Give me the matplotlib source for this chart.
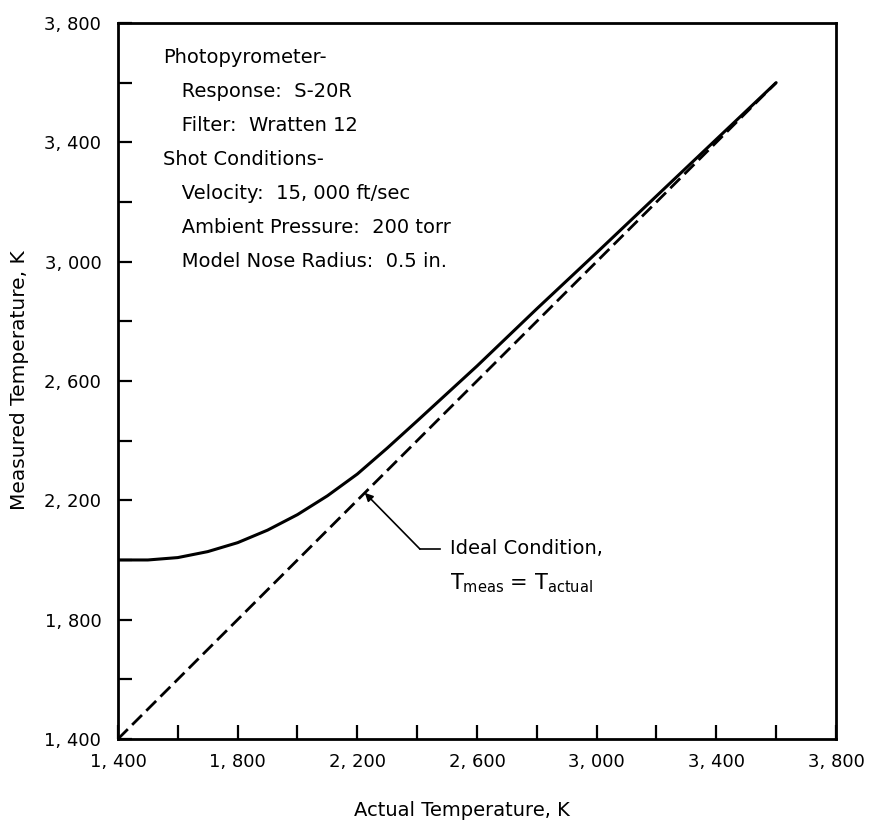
import matplotlib
matplotlib.use('Agg')
import matplotlib.pyplot as plt
from matplotlib.ticker import FixedLocator, FuncFormatter

plt.rcParams['font.family'] = ['DejaVu Sans']

# actual temperature, K
actual = [1400, 1500, 1600, 1700, 1800, 1900, 2000, 2100, 2200, 2300,
          2400, 2600, 2800, 3000, 3200, 3400, 3600]
# measured temperature, K
measured = [2000, 2000, 2008, 2028, 2058, 2100, 2152, 2215, 2288, 2375,
            2466, 2650, 2842, 3030, 3220, 3410, 3600]
# ideal line T_meas = T_actual
ideal = [1400, 3600]

major_ticks = [1400, 1800, 2200, 2600, 3000, 3400, 3800]
minor_ticks = [1600, 2000, 2400, 2800, 3200, 3600]

notes = ['Photopyrometer-', '   Response:  S-20R', '   Filter:  Wratten 12',
         'Shot Conditions-', '   Velocity:  15, 000 ft/sec',
         '   Ambient Pressure:  200 torr', '   Model Nose Radius:  0.5 in.']

fig = plt.figure(figsize=(8.7, 8.24), dpi=100)
ax = fig.add_axes([0.1356, 0.1032, 0.8253, 0.8689])

ax.plot(actual, measured, color='black', lw=2.2, solid_capstyle='round')
ax.plot(ideal, ideal, color='black', lw=2.0, linestyle=(0, (5, 2.2)))

ax.set_xlim(1400, 3800)
ax.set_ylim(1400, 3800)

def fmt(v, pos):
    return '{:,}'.format(int(v)).replace(',', ', ')

for axis in (ax.xaxis, ax.yaxis):
    axis.set_major_locator(FixedLocator(major_ticks))
    axis.set_minor_locator(FixedLocator(minor_ticks))
    axis.set_major_formatter(FuncFormatter(fmt))

ax.tick_params(which='both', direction='in', length=10, width=1.6,
               top=False, right=False, labelsize=13)
ax.tick_params(axis='x', pad=10)
ax.tick_params(axis='y', pad=12)
for s in ax.spines.values():
    s.set_linewidth(2.0)

# notes block
y0 = 0.952
for i, t in enumerate(notes):
    ax.text(0.0627, y0 - i * 0.0475, t, transform=ax.transAxes,
            fontsize=14, va='center', ha='left')

# leader for the ideal line
tip = (2225, 2225)
elbow = (2409, 2037)
txt = (2476, 2037)
ax.plot([elbow[0], txt[0]], [elbow[1], txt[1]], color='black', lw=1.2)
ax.annotate('', xy=tip, xytext=elbow,
            arrowprops=dict(arrowstyle='-|>', color='black', lw=1.2,
                            mutation_scale=12, shrinkA=0, shrinkB=0))
ax.text(2510, 2037, 'Ideal Condition,', fontsize=14, va='center', ha='left')
ax.text(2510, 1922, r'T$_\mathregular{meas}$ = T$_\mathregular{actual}$',
        fontsize=15, va='center', ha='left')

fig.text(462 / 870, 1 - 810 / 824, 'Actual Temperature, K', fontsize=14,
         ha='center', va='center')
fig.text(20 / 870, 1 - 380 / 824, 'Measured Temperature, K', fontsize=14.5,
         ha='center', va='center', rotation=90)

fig.savefig('out.png', dpi=100)
